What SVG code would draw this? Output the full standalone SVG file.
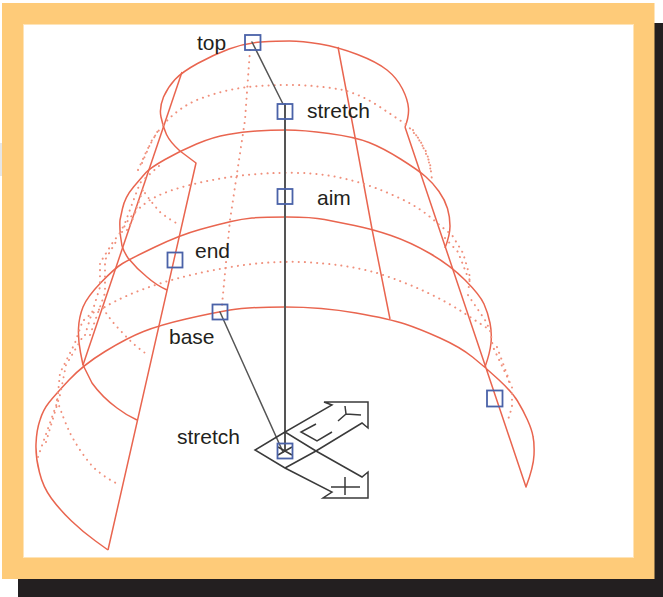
<svg xmlns="http://www.w3.org/2000/svg" width="663" height="597" viewBox="0 0 663 597">
<style>
.r{fill:none;stroke:#e9654f;stroke-width:1.5;stroke-linejoin:round}
.d{fill:none;stroke:#f0907c;stroke-width:2;stroke-dasharray:.1 6;stroke-linecap:round}
.k{fill:none;stroke:#555;stroke-linecap:round}
.h{fill:none;stroke:#3a3a3a;stroke-width:1.5;stroke-linejoin:miter}
.n{fill:none;stroke:#4a62a8;stroke-width:1.8}
text{font-family:"Liberation Sans",Arial,sans-serif;font-size:21px;fill:#231f20}
</style>
<rect x="0" y="143" width="2" height="33" fill="#e6e6e6"/>
<rect x="18" y="23" width="645" height="574" fill="#231f20"/>
<rect x="2" y="3" width="652.500" height="576" fill="#fecb79"/>
<rect x="23.500" y="24.500" width="610" height="533" fill="#fff" stroke="#fee4b8"/>
<g id="surface">
<path class="r" d="M108 550L95.500 541Q83 532 71.500 521Q60 510 51.500 498.500Q43 487 39.500 472.500Q35.500 458 36 444Q36.500 430 40 420Q43 410 49 402.500Q55 395 69 380Q83 365 105 351.500Q127 338 143.500 331.500Q160 325 186 319Q212 313 230 310Q248 307 285 307Q322 307 356 313Q390 319 405 324Q420 329 440 338Q460 347 472.500 357Q485 367 498.500 379.500Q512 392 517.500 401Q523 410 527.500 420Q532 430 533 436.500Q534.500 443 534 455Q533.500 467 526 487L405 127"/>
<path class="r" d="M108 550L196 163L180 151Q170 142 166.500 134.500Q163 127 161 117Q159 108 163.500 97Q168 87 175 79.500Q182 72 197.500 63.500Q213 55 229 49Q245 43 261 42Q277 41 289.500 41Q302 41 320 44Q338 47 357.500 54.500Q377 62 387 70Q397 78 402.500 89Q408 100 408.500 108.500Q409 117 405 127"/>
<path class="r" d="M83 365L80.500 352.500Q78 340 78.500 328.500Q79 317 83 307Q87 297 101 282.500Q115 268 122.500 263.500Q130 259 155 247Q180 235 200 229.500Q220 224 231 221.500Q242 219 252 218Q262 217 287 217Q312 217 324.500 219.500Q337 222 354.500 225.500Q372 229 391 235.500Q410 242 430 253.500Q450 265 465 280Q480 295 484 304Q488 313 490 323Q492 333 491 343Q490 353 485 367"/>
<path class="r" d="M122 246L120.500 236Q119.500 226 120 220Q120 220 122.500 208.500Q125 197 133.500 187Q142 177 146 172.500Q150 168 165 159.500Q180 151 196.500 144Q213 137 228 134.500Q243 132 256.500 131Q270 130 286.500 130Q303 130 329 133.500Q355 137 369 142.500Q383 148 400.500 159Q418 170 425.500 176.500Q433 183 439 191.500Q445 200 447.500 208.500Q450 217 450 226Q450 235 445 248"/>
<path class="r" d="M83 365L182 72"/>
<path class="r" d="M338 47L355 137L372 229L390 319"/>
<path class="r" d="M83 365Q88 375 92 383Q102 397 117 408Q126 415 137 420"/>
<path class="r" d="M122 246Q124 252 128 258Q137 269 147 277Q156 285 167 290"/>
</g>
<g id="surface-dotted">
<path class="d" d="M163 125Q178 108 197 100Q222 90 248 87Q272 84.500 297 85Q322 86 343 90Q362 95 380 107L407 125L420 140L430 163L432 180"/>
<path class="d" d="M413 130L427 153L431 172"/>
<path class="d" d="M122 232Q128 215 150 200Q173 186 230 177Q263 172 303 173Q350 175 397 197Q420 207 437 223L452 235L463 253L470 277L468 293"/>
<path class="d" d="M445 238L458 252L467 275L472 284"/>
<path class="d" d="M84 320Q92 312 103 308Q150 280 237 266Q270 261 303 262Q345 264 377 273Q430 290 467 315L490 330L493 347L512 387L512 407L507 423"/>
<path class="d" d="M468 295L485 320L491 332"/>
<path class="d" d="M497 347L508 377L510 387"/>
<path class="d" d="M38 457L57 403L60 373L75 343L83 320"/>
<path class="d" d="M46 442L60 395L66 365L82 338"/>
<path class="d" d="M57 400Q64 420 70 433Q80 452 93 467Q105 478 120 485"/>
<path class="d" d="M103 308Q110 320 120 330Q133 345 148 355"/>
<path class="d" d="M145 193Q152 203 160 212Q170 220 180 225"/>
<path class="d" d="M85 335L100 287L100 263L113 242L120 233"/>
<path class="d" d="M90 335L105 293L105 260L117 240"/>
<path class="d" d="M120 233L125 223L140 183L160 165"/>
<path class="d" d="M127 230L132 221L144 187"/>
<path class="d" d="M138 170L147 150L160 127"/>
<path class="d" d="M142 163L152 140L162 126"/>
<path class="d" d="M250 50L245 120L230 220L222 305"/>
</g>
<g id="connectors">
<path class="k" stroke-width="1.5" d="M252 42L283 104"/>
<path class="k" stroke-width="2" d="M285 104V450"/>
<path class="k" stroke-width="1.5" d="M220 312L283 452"/>
</g>
<g id="handle">
<path class="h" d="M285 432L255 450L285 468L332 492L323 498H368V472L362 477L316 451L285 432L332 405L324 402H368V428L362 423L316 451L285 468"/>
<path class="h" d="M345 406L346 414L338 421M346 414L361 415"/>
<path class="h" d="M316 424L301 432L317 441L332 432"/>
<path class="h" d="M331 487H360M345 477V495"/>
<path class="h" d="M278 447L292 455M278 455L292 447"/>
</g>
<g id="top"><rect class="n" x="245" y="35" width="15.500" height="15"/><text x="197" y="50">top</text></g>
<g id="stretch-top"><rect class="n" x="277.500" y="104" width="15" height="15"/><text x="307" y="118">stretch</text></g>
<g id="aim"><rect class="n" x="277.500" y="189" width="15" height="15"/><text x="317" y="205">aim</text></g>
<g id="end"><rect class="n" x="167.500" y="252.500" width="15" height="15"/><text x="195" y="258">end</text></g>
<g id="base"><rect class="n" x="212.500" y="304.500" width="15" height="15"/><text x="169" y="344">base</text></g>
<g id="right"><rect class="n" x="487" y="390.500" width="15.500" height="16"/></g>
<g id="stretch-bottom"><rect class="n" x="277.500" y="443.500" width="15" height="15"/><text x="177" y="444">stretch</text></g>
</svg>
